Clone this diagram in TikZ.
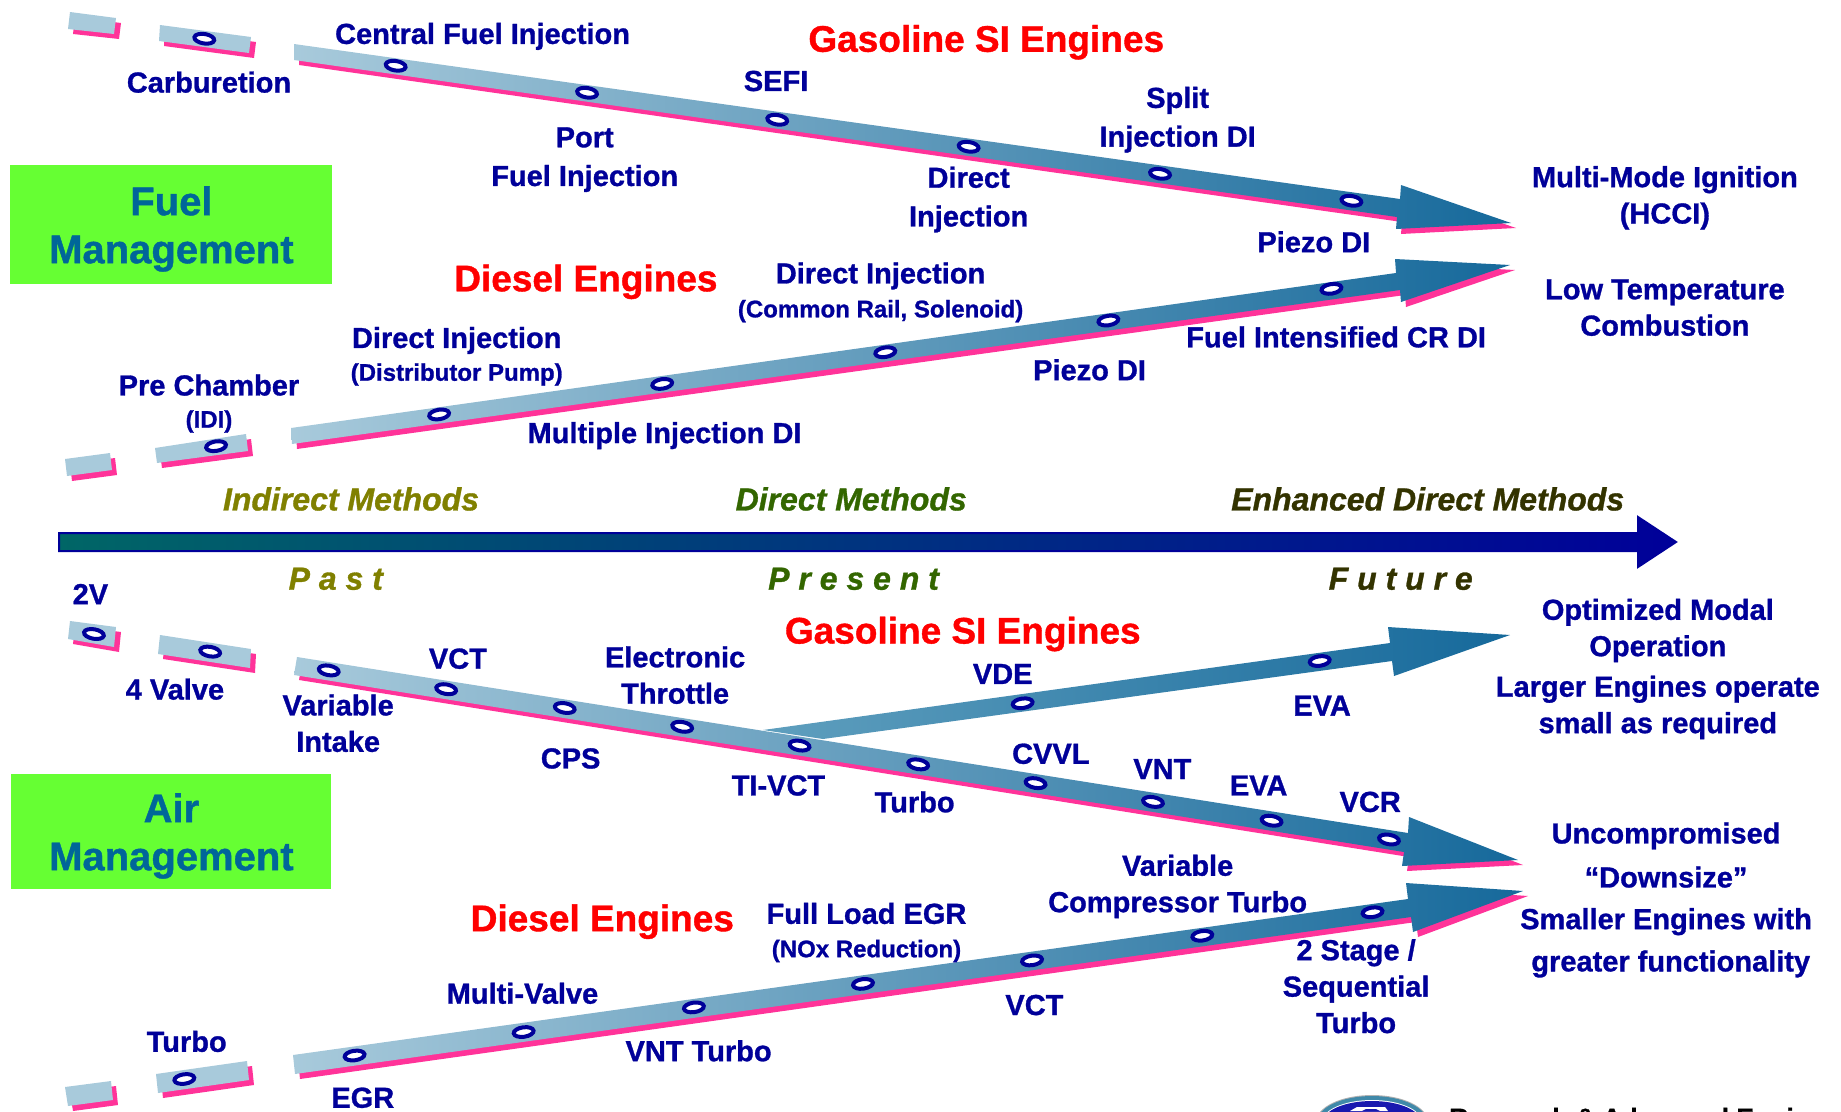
\documentclass[tikz,border=0pt]{standalone}
\usepackage{fontspec}
\setmainfont{Liberation Sans}[BoldFeatures={FakeBold=1},BoldItalicFeatures={FakeBold=1}]
\usetikzlibrary{shapes.geometric}
\definecolor{navy}{HTML}{000099}
\definecolor{pinkish}{HTML}{FF3399}
\definecolor{barlight}{HTML}{A8CADB}
\definecolor{barmid}{HTML}{7AA0BC}
\definecolor{bardark}{HTML}{16699B}
\definecolor{branchlight}{HTML}{5F9FBE}
\definecolor{axisstart}{HTML}{006666}
\definecolor{boxgreen}{HTML}{66FF33}
\definecolor{boxtext}{HTML}{006699}
\definecolor{mpast}{HTML}{808000}
\definecolor{mpresent}{HTML}{336600}
\definecolor{mfuture}{HTML}{333300}
\tikzset{
  x=1pt,y=-1pt,
  lab/.style={text=navy,inner sep=0pt,align=center,font=\fontsize{29}{36.4}\selectfont\bfseries},
  labw/.style={text=navy,inner sep=0pt,align=center,font=\fontsize{29}{38.7}\selectfont\bfseries},
  small/.style={text=navy,inner sep=0pt,align=center,font=\fontsize{24}{30}\selectfont\bfseries},
  title/.style={text=red,inner sep=0pt,font=\fontsize{37}{44}\selectfont\bfseries},
  era/.style={inner sep=0pt,font=\fontsize{32}{38}\selectfont\bfseries\itshape},
  mgmt/.style={text=boxtext,inner sep=0pt,align=center,font=\fontsize{40}{48}\selectfont\bfseries},
  gbox/.style={fill=boxgreen,draw=none},
  bar/.style={left color=barlight,middle color=barmid,right color=bardark,draw=none},
  stub/.style={fill=barlight,draw=none},
  shadowp/.style={fill=pinkish,draw=none,xshift=5pt,yshift=-5pt},
  dot/.style={ellipse,draw=navy,fill=white,line width=4pt,inner sep=0pt,minimum width=20pt,minimum height=9.5pt}
}
\begin{document}
\begin{tikzpicture}
\useasboundingbox (0,0) rectangle (1841,1111);
\clip (0,0) rectangle (1841,1111);
% green boxes
\fill[gbox] (10,165) rectangle (332,284);
\fill[gbox] (11,774) rectangle (331,889);
% === fuel gasoline
\fill[shadowp] (70,12)--(116,18)--(114,34)--(68,29)--cycle;
\fill[stub] (70,12)--(116,18)--(114,34)--(68,29)--cycle;
\fill[shadowp] (160,25)--(251,37)--(249,53)--(159,41)--cycle;
\fill[stub] (160,25)--(251,37)--(249,53)--(159,41)--cycle;
\fill[shadowp] (294,44)--(1400,199)--(1401,185)--(1511,223)--(1396,229)--(1397,217)--(294,60)--cycle;
\shade[bar] (294,44)--(1400,199)--(1401,185)--(1511,223)--(1396,229)--(1397,217)--(294,60)--cycle;
% === fuel diesel
\fill[shadowp] (65,459)--(110,453)--(112,470)--(67,476)--cycle;
\fill[stub] (65,459)--(110,453)--(112,470)--(67,476)--cycle;
\fill[shadowp] (155,448)--(246,434)--(248,451)--(157,463)--cycle;
\fill[stub] (155,448)--(246,434)--(248,451)--(157,463)--cycle;
\fill[shadowp] (291,428)--(1396,273)--(1395,259)--(1510,265)--(1401,302)--(1400,290)--(292,444)--cycle;
\shade[bar] (291,428)--(1396,273)--(1395,259)--(1510,265)--(1401,302)--(1400,290)--(292,444)--cycle;
% === centre arrow
\shade[left color=axisstart,right color=navy,draw=navy,line width=2pt]
  (59,533)--(1638,533)--(1638,517)--(1676,542)--(1638,567)--(1638,551)--(59,551)--cycle;
% === air gasoline
\fill[shadowp] (70,621)--(116,627)--(114,647)--(68,639)--cycle;
\fill[stub] (70,621)--(116,627)--(114,647)--(68,639)--cycle;
\fill[shadowp] (160,635)--(251,649)--(250,668)--(158,654)--cycle;
\fill[stub] (160,635)--(251,649)--(250,668)--(158,654)--cycle;
\shade[left color=branchlight,right color=bardark,draw=none]
  (763,730)--(1390,643)--(1388,627)--(1510,635)--(1394,676)--(1392,661)--(823,739)--cycle;
\fill[shadowp] (297,657)--(1408,833)--(1409,817)--(1518,860)--(1402,866)--(1404,852)--(294,675)--cycle;
\shade[bar] (297,657)--(1408,833)--(1409,817)--(1518,860)--(1402,866)--(1404,852)--(294,675)--cycle;
% === air diesel
\fill[shadowp] (65,1087)--(111,1081)--(113,1100)--(68,1106)--cycle;
\fill[stub] (65,1087)--(111,1081)--(113,1100)--(68,1106)--cycle;
\fill[shadowp] (156,1074)--(247,1061)--(249,1080)--(158,1093)--cycle;
\fill[stub] (156,1074)--(247,1061)--(249,1080)--(158,1093)--cycle;
\fill[shadowp] (293,1055)--(1408,899)--(1406,883)--(1523,891)--(1413,932)--(1411,917)--(295,1074)--cycle;
\shade[bar] (293,1055)--(1408,899)--(1406,883)--(1523,891)--(1413,932)--(1411,917)--(295,1074)--cycle;
% logo
\fill[color=gray!60] (1372,1122) ellipse [x radius=56,y radius=27];
\fill[color=blue!30!cyan!55!black!75] (1372,1122) ellipse [x radius=55,y radius=26];
\fill[white] (1372,1122) ellipse [x radius=50,y radius=22];
\fill[color=blue!65!black!90] (1372,1122) ellipse [x radius=49,y radius=21];
\fill[white] (1350,1111)--(1357,1107)--(1385,1107)--(1388,1111)--cycle;
\fill[color=blue!65!black!90] (1362,1111)--(1366,1109)--(1376,1109)--(1380,1111)--cycle;
% dots and labels in the 1568-wide frame
\begin{scope}[x=1.1741pt,y=-1.1741pt]
\foreach \n/\a/\b in {a1/174/33,a2/337/56,a3/500/79,a4/662/102,a5/825/125,a6/988/148,a7/1151/171}
  \node[dot,rotate=-9] (\n) at (\a,\b) {};
\foreach \n/\a/\b in {b1/184/380,b2/374/353,b3/564/327,b4/754/300,b5/944/273,b6/1134/246}
  \node[dot,rotate=9] (\n) at (\a,\b) {};
\foreach \n/\a/\b in {c1/80/540,c2/179/555,c3/280/571,c4/380/587,c5/481/603,c6/581/619,c7/681/635,c8/782/651,c9/882/667,c10/982/683,c11/1083/699,c12/1183/715}
  \node[dot,rotate=-10] (\n) at (\a,\b) {};
\foreach \n/\a/\b in {d1/871/599,d2/1124/563}
  \node[dot,rotate=8] (\n) at (\a,\b) {};
\foreach \n/\a/\b in {e1/157/919,e2/302/899,e3/446/879,e4/591/858,e5/735/838,e6/879/818,e7/1024/797,e8/1169/777}
  \node[dot,rotate=8] (\n) at (\a,\b) {};
% box titles
\node[mgmt] (fuelbox) at (146,195) {Fuel\\[0pt]Management};
\node[mgmt] (airbox) at (146,712) {Air\\[0pt]Management};
% upper labels
\node[title] (t1) at (840,36) {Gasoline SI Engines};
\node[title] (t2) at (499,240) {Diesel Engines};
\node[title] (t3) at (820,540) {Gasoline SI Engines};
\node[title] (t4) at (513,785) {Diesel Engines};
\node[lab] (l1) at (178,70) {Carburetion};
\node[lab] (l2) at (411,31) {Central Fuel Injection};
\node[lab] (l3) at (661,69) {SEFI};
\node[labw] (l4) at (1003,102) {Split\\Injection DI};
\node[labw] (l5) at (498,136) {Port\\Fuel Injection};
\node[labw] (l6) at (825,170) {Direct\\Injection};
\node[lab] (l7) at (1418,168.5) {Multi-Mode Ignition\\(HCCI)};
\node[lab] (l8) at (1119,206) {Piezo DI};
\node[lab] (l9) at (1418,262) {Low Temperature\\Combustion};
\node[lab] (l10) at (750,235) {Direct Injection};
\node[small] (l11) at (750,265) {(Common Rail, Solenoid)};
\node[lab] (l12) at (1138,287) {Fuel Intensified CR DI};
\node[lab] (l13) at (928,315) {Piezo DI};
\node[lab] (l14) at (389,290) {Direct Injection};
\node[small] (l15) at (389,319) {(Distributor Pump)};
\node[lab] (l16) at (566,371) {Multiple Injection DI};
\node[lab] (l17) at (178,328) {Pre Chamber};
\node[small] (l18) at (178,359) {(IDI)};
% eras
\node[era,text=mpast] (m1) at (299,425) {Indirect Methods};
\node[era,text=mpresent] (m2) at (725,425) {Direct Methods};
\node[era,text=mfuture] (m3) at (1216,425) {Enhanced Direct Methods};
\node[era,text=mpast] (m4) at (286,493) {P a s t};
\node[era,text=mpresent] (m5) at (727,493) {P r e s e n t};
\node[era,text=mfuture] (m6) at (1193,493) {F u t u r e};
% lower labels
\node[lab] (n1) at (77,506) {2V};
\node[lab] (n2) at (149,587) {4 Valve};
\node[lab] (n3) at (288,616) {Variable\\Intake};
\node[lab] (n4) at (390,561) {VCT};
\node[lab] (n5) at (575,575) {Electronic\\Throttle};
\node[lab] (n6) at (486,646) {CPS};
\node[lab] (n7) at (854,574) {VDE};
\node[lab] (n8) at (1126,601) {EVA};
\node[lab] (n9) at (1412,537) {Optimized Modal\\Operation};
\node[lab] (n10) at (1412,602.5) {Larger Engines operate\\small as required};
\node[lab] (n11) at (663,669) {TI-VCT};
\node[lab] (n12) at (779,683) {Turbo};
\node[lab] (n13) at (895,642) {CVVL};
\node[lab] (n14) at (990,655) {VNT};
\node[lab] (n15) at (1072,669) {EVA};
\node[lab] (n16) at (1167,683) {VCR};
\node[lab] (n17) at (1419,712) {Uncompromised};
\node[lab] (n18) at (1419,747) {“Downsize”};
\node[lab] (n19) at (1419,785) {Smaller Engines with};
\node[lab] (n20) at (1423,821) {greater functionality};
\node[lab] (n21) at (1003,755) {Variable\\Compressor Turbo};
\node[lab] (n22) at (738,778) {Full Load EGR};
\node[small] (n23) at (738,810) {(NOx Reduction)};
\node[lab] (n24) at (445,846) {Multi-Valve};
\node[lab] (n25) at (1155,840) {2 Stage /\\Sequential\\Turbo};
\node[lab] (n26) at (881,856) {VCT};
\node[lab] (n27) at (595,895) {VNT Turbo};
\node[lab] (n28) at (159,887) {Turbo};
\node[lab] (n29) at (309,935) {EGR};
\end{scope}
\node[anchor=base west,inner sep=0pt,text=black,font=\fontsize{26.5}{30}\selectfont\bfseries] (ford) at (1449,1127) {Research \& Advanced Engineering};
\end{tikzpicture}
\end{document}
